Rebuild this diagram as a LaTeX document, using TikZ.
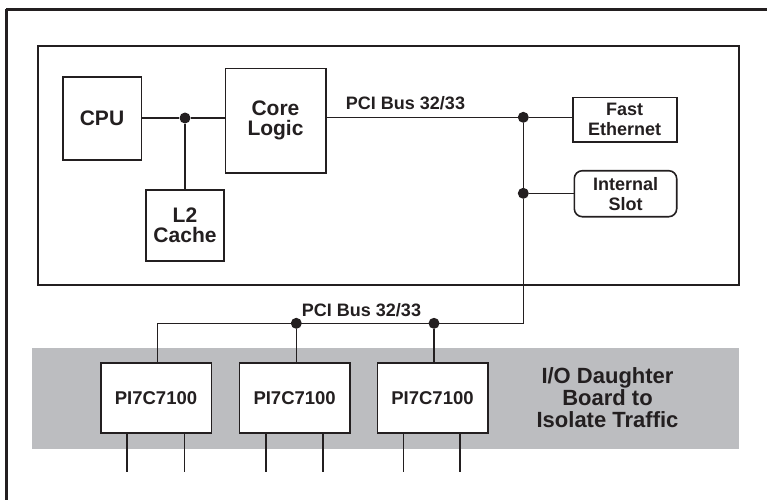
\documentclass[tikz,border=0pt]{standalone}
\usepackage{fontspec}
\setmainfont{Liberation Sans}
\definecolor{ink}{HTML}{231F20}
\definecolor{band}{HTML}{BCBDC0}
\begin{document}
\begin{tikzpicture}[x=1pt,y=-1pt,
  box/.style={draw=ink,line width=1.6pt,fill=white,rectangle,inner sep=0pt,align=center,text=ink,font=\bfseries},
  wire/.style={draw=ink,line width=1.6pt},
  dot/.style={circle,fill=ink,inner sep=0pt,minimum size=11pt},
  lbl/.style={text=ink,font=\bfseries\fontsize{18}{19}\selectfont,inner sep=0pt}]
\useasboundingbox (0,0) rectangle (767,499);
\draw[ink,line width=3pt] (6,9) -- (780,9);
\draw[ink,line width=3pt] (6,9) -- (6,510);
\draw[ink,line width=1.6pt] (37.7,45.7) rectangle (739,285);
\fill[band] (32,348.3) rectangle (739,449.3);
% nodes
\node[box,minimum width=78.6pt,minimum height=83pt,font=\bfseries\fontsize{21}{21}\selectfont] (cpu) at (102,118.5) {CPU};
\node[box,minimum width=100.4pt,minimum height=104.4pt,font=\bfseries\fontsize{21}{20.5}\selectfont] (core) at (275.5,120.5) {Core\\Logic};
\node[box,minimum width=78.3pt,minimum height=70.7pt,font=\bfseries\fontsize{21}{20.5}\selectfont] (l2) at (185,225.35) {L2\\Cache};
\node[box,minimum width=104pt,minimum height=44.7pt,font=\bfseries\fontsize{18}{20}\selectfont] (fe) at (624.7,119.65) {Fast\\Ethernet};
\node[box,rounded corners=8pt,minimum width=102.4pt,minimum height=46pt,font=\bfseries\fontsize{18}{20}\selectfont] (is) at (625.5,193.7) {Internal\\Slot};
\node[box,minimum width=110.6pt,minimum height=70pt,font=\bfseries\fontsize{18.5}{20}\selectfont] (p1) at (156,397.7) {PI7C7100};
\node[box,minimum width=110.7pt,minimum height=70pt,font=\bfseries\fontsize{18.5}{20}\selectfont] (p2) at (294.65,397.7) {PI7C7100};
\node[box,minimum width=110.4pt,minimum height=70pt,font=\bfseries\fontsize{18.5}{20}\selectfont] (p3) at (432.5,397.7) {PI7C7100};
\node[text=ink,align=center,inner sep=0pt,font=\bfseries\fontsize{22}{22}\selectfont] (io) at (607.5,398) {I/O Daughter\\Board to\\Isolate Traffic};
\node[lbl] (bus1) at (405.5,103) {PCI Bus 32/33};
\node[lbl] (bus2) at (361.5,310) {PCI Bus 32/33};
% junctions
\node[dot] (j1) at (185,118) {};
\node[dot] (j2) at (523.3,117.3) {};
\node[dot] (j3) at (523.3,193.3) {};
\node[dot] (j4) at (296.3,323.3) {};
\node[dot] (j5) at (434,323.3) {};
\coordinate (c1) at (523.3,323.3);
\coordinate (c2) at (157.3,323.3);
% wires
\draw[wire] (cpu.east |- j1) -- (j1) -- (core.west |- j1);
\draw[wire] (j1) -- (l2.north);
\draw[wire] (core.east |- j2) -- (j2) -- (fe.west |- j2);
\draw[wire] (j3) -- (is.west |- j3);
\draw[wire] (j2) -- (j3) -- (c1) -- (c2) -- (c2 |- p1.north);
\draw[wire] (j4) -- (p2.north -| j4);
\draw[wire] (j5) -- (p3.north -| j5);
% legs
\foreach \n/\a/\b in {p1/127/184.3,p2/266/322.7,p3/403.3/460}{
  \coordinate (\n a) at (\a,471.7);
  \coordinate (\n b) at (\b,471.7);
  \draw[wire] (\n.south -| \n a) -- (\n a);
  \draw[wire] (\n.south -| \n b) -- (\n b);
}
\end{tikzpicture}
\end{document}
